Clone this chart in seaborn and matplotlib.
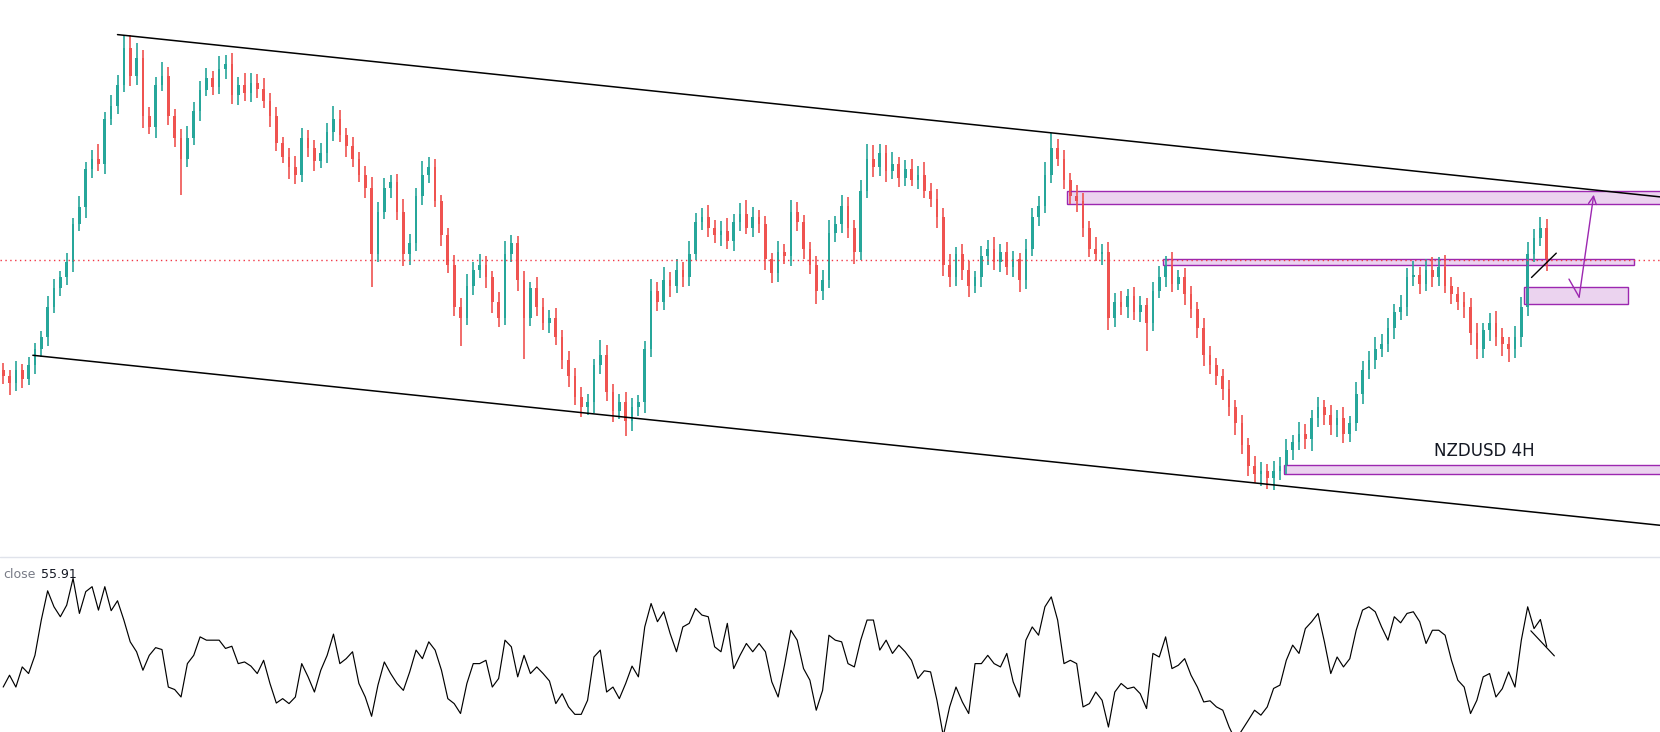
import numpy as np
import pandas as pd
import matplotlib
matplotlib.use("Agg")
import matplotlib.pyplot as plt
from matplotlib.lines import Line2D
from matplotlib.patches import Rectangle
import seaborn as sns

# NZDUSD 4H closes, in pips (price * 10000)
close_pips = [
    6045, 6038, 6050, 6042, 6055, 6070, 6082, 6110, 6128, 6138,
    6152, 6188, 6204, 6240, 6250, 6245, 6288, 6300, 6320, 6355,
    6328, 6345, 6290, 6280, 6320, 6328, 6290, 6270, 6250, 6270,
    6295, 6315, 6326, 6318, 6335, 6340, 6310, 6320, 6312, 6322,
    6316, 6305, 6290, 6265, 6252, 6242, 6235, 6270, 6260, 6248,
    6255, 6275, 6288, 6272, 6262, 6250, 6235, 6222, 6160, 6200,
    6222, 6228, 6200, 6160, 6170, 6215, 6235, 6242, 6210, 6178,
    6150, 6110, 6100, 6130, 6145, 6150, 6138, 6115, 6100, 6160,
    6170, 6135, 6100, 6128, 6110, 6095, 6100, 6082, 6060, 6045,
    6025, 6015, 6020, 6055, 6065, 6030, 6012, 6020, 6002, 6015,
    6020, 6070, 6125, 6115, 6135, 6130, 6145, 6138, 6160, 6190,
    6195, 6185, 6178, 6182, 6172, 6190, 6198, 6185, 6195, 6188,
    6155, 6142, 6162, 6158, 6200, 6190, 6165, 6150, 6125, 6135,
    6180, 6188, 6205, 6185, 6162, 6220, 6250, 6242, 6255, 6238,
    6245, 6232, 6240, 6230, 6235, 6220, 6212, 6195, 6150, 6138,
    6160, 6145, 6130, 6138, 6158, 6165, 6152, 6162, 6148, 6155,
    6135, 6165, 6195, 6205, 6235, 6260, 6250, 6230, 6215, 6210,
    6185, 6165, 6160, 6162, 6100, 6115, 6110, 6120, 6105, 6112,
    6095, 6125, 6138, 6150, 6132, 6138, 6122, 6108, 6090, 6065,
    6055, 6045, 6032, 6015, 6000, 5980, 5960, 5952, 5955, 5948,
    5955, 5960, 5975, 5982, 5990, 5985, 6005, 6015, 6008, 5998,
    6005, 5990, 6000, 6028, 6050, 6060, 6070, 6075, 6090, 6105,
    6110, 6138, 6140, 6132, 6145, 6138, 6148, 6130, 6122, 6115,
    6110, 6085, 6070, 6088, 6095, 6082, 6075, 6070, 6082, 6110,
    6160, 6175, 6185, 6154,
]
first_open = 6050

# wick lengths above / below the body, in pips
up_wick = [
    7, 5, 9, 6, 8, 6, 5, 10, 8, 6,
    9, 6, 11, 7, 8, 14, 6, 10, 9, 12,
    12, 14, 8, 9, 7, 13, 9, 7, 8, 11,
    9, 8, 10, 7, 12, 8, 10, 7, 11, 9,
    8, 10, 7, 9, 6, 8, 11, 9, 7, 8,
    10, 9, 12, 8, 7, 9, 6, 8, 11, 9,
    10, 7, 8, 12, 9, 7, 13, 10, 8, 6,
    7, 9, 8, 11, 7, 10, 8, 6, 9, 12,
    8, 7, 9, 6, 10, 8, 7, 9, 6, 8,
    7, 9, 8, 6, 14, 9, 7, 8, 10, 9,
    7, 8, 11, 9, 13, 8, 10, 7, 12, 9,
    8, 11, 7, 9, 12, 8, 10, 13, 9, 7,
    8, 6, 10, 7, 11, 9, 7, 6, 8, 10,
    12, 8, 11, 9, 7, 10, 14, 13, 9, 8,
    11, 7, 9, 10, 8, 12, 7, 9, 8, 10,
    7, 9, 8, 6, 10, 8, 11, 7, 9, 8,
    6, 9, 8, 10, 12, 14, 9, 8, 7, 10,
    8, 6, 11, 7, 9, 8, 10, 7, 9, 8,
    6, 9, 11, 8, 12, 7, 9, 8, 7, 10,
    8, 7, 6, 9, 7, 8, 6, 9, 8, 7,
    9, 8, 10, 7, 11, 9, 8, 10, 7, 9,
    8, 10, 7, 11, 9, 8, 12, 9, 10, 8,
    11, 9, 13, 8, 10, 12, 9, 11, 8, 7,
    9, 8, 10, 7, 9, 11, 8, 7, 10, 9,
    11, 9, 10, 8,
]
dn_wick = [
    8, 11, 7, 9, 6, 8, 7, 9, 6, 8,
    7, 9, 6, 10, 8, 7, 9, 6, 8, 7,
    9, 8, 11, 7, 10, 6, 8, 9, 34, 8,
    7, 9, 6, 8, 7, 10, 8, 9, 7, 8,
    9, 7, 10, 8, 6, 11, 9, 7, 8, 10,
    7, 9, 8, 6, 10, 8, 7, 9, 31, 8,
    7, 9, 8, 11, 10, 7, 9, 8, 6, 10,
    8, 9, 27, 7, 9, 8, 10, 11, 9, 7,
    8, 10, 39, 8, 9, 7, 10, 8, 9, 11,
    8, 9, 7, 10, 8, 9, 11, 8, 14, 9,
    8, 10, 7, 9, 8, 11, 7, 9, 8, 6,
    7, 9, 8, 10, 7, 9, 8, 6, 9, 8,
    10, 9, 8, 7, 9, 8, 10, 9, 12, 8,
    7, 9, 8, 10, 11, 8, 7, 9, 8, 10,
    7, 9, 8, 6, 9, 7, 8, 10, 11, 9,
    8, 10, 11, 7, 9, 8, 7, 9, 8, 10,
    11, 8, 7, 9, 6, 8, 7, 9, 8, 10,
    9, 8, 7, 10, 12, 9, 8, 10, 7, 9,
    27, 8, 7, 9, 8, 6, 10, 8, 9, 11,
    8, 9, 10, 8, 11, 9, 10, 8, 11, 10,
    11, 9, 8, 10, 7, 9, 11, 8, 10, 9,
    11, 9, 8, 7, 10, 8, 9, 7, 8, 10,
    7, 9, 8, 10, 7, 9, 8, 7, 9, 8,
    10, 11, 9, 8, 10, 9, 11, 12, 8, 10,
    9, 8, 7, 10,
]

# oscillator pane ("close"), one value per candle
rsi = [
    41.2, 45.5, 41.2, 48.5, 46.1, 52.7, 65.5, 76.1, 70.3, 66.7,
    70.9, 80.6, 67.9, 75.8, 77.6, 69.1, 77.6, 68.9, 72.5, 65.5,
    57.6, 54.0, 47.3, 52.7, 55.5, 54.8, 41.2, 40.3, 37.6, 49.7,
    52.7, 59.4, 58.2, 58.2, 58.2, 55.2, 56.0, 49.7, 50.3, 48.8,
    46.1, 50.9, 42.5, 35.4, 37.0, 35.2, 37.6, 49.7, 44.9, 39.4,
    47.3, 52.7, 60.4, 49.7, 51.5, 54.0, 42.5, 37.6, 30.6, 41.9,
    50.3, 46.1, 42.5, 40.0, 46.7, 54.6, 51.5, 57.6, 54.6, 47.3,
    37.0, 35.2, 31.6, 42.5, 49.7, 49.7, 50.9, 41.2, 44.3, 58.2,
    55.8, 44.9, 52.7, 46.1, 48.5, 46.1, 43.4, 35.2, 38.8, 34.0,
    31.3, 31.3, 36.4, 52.1, 54.6, 39.4, 41.2, 37.0, 42.5, 48.8,
    44.9, 63.0, 71.5, 64.9, 68.5, 60.6, 54.0, 63.0, 64.3, 69.7,
    67.3, 66.7, 55.8, 54.0, 64.3, 47.9, 52.7, 57.0, 54.0, 57.0,
    54.0, 43.1, 37.6, 49.1, 61.8, 58.2, 47.9, 43.7, 32.8, 40.0,
    60.0, 58.2, 57.6, 49.7, 48.5, 58.2, 65.5, 65.5, 54.6, 58.2,
    53.4, 56.4, 54.0, 50.9, 44.3, 47.1, 46.7, 36.4, 23.5, 34.0,
    41.2, 35.8, 31.6, 49.7, 49.7, 52.7, 49.7, 48.5, 53.4, 43.1,
    37.6, 58.2, 63.0, 60.0, 70.3, 73.9, 65.5, 49.7, 50.9, 49.7,
    34.0, 35.2, 39.4, 36.4, 26.7, 39.4, 42.5, 40.6, 41.2, 38.8,
    33.4, 53.4, 52.1, 59.4, 47.9, 49.1, 51.5, 45.5, 41.2, 35.8,
    36.2, 34.0, 32.8, 26.7, 21.9, 25.5, 29.1, 32.8, 31.0, 34.0,
    40.7, 41.9, 50.9, 56.4, 53.4, 62.4, 64.9, 67.9, 57.6, 46.1,
    52.1, 48.5, 51.5, 61.8, 69.1, 70.3, 68.5, 63.0, 58.2, 66.7,
    64.5, 67.9, 68.5, 64.9, 57.0, 61.8, 61.8, 60.0, 50.9, 43.7,
    41.2, 31.6, 36.4, 44.9, 46.1, 37.6, 40.6, 46.7, 41.2, 58.2,
    70.3, 62.4, 65.7, 55.91,
]

# hand-drawn objects: (candle index, price) anchors
channel_top = [(18.0, 0.63673), (260.8, 0.62140)]
channel_bottom = [(4.67, 0.60643), (260.8, 0.59037)]
zones = [  # x0, x1, bottom, top
    (167.4, 262.0, 0.62071, 0.62194),
    (182.6, 256.7, 0.61495, 0.61555),
    (239.4, 255.8, 0.61126, 0.61290),
    (201.6, 262.0, 0.59520, 0.59610),
]
arrow_path = [(246.5, 0.61363), (248.1, 0.61193), (250.4, 0.62160)]
small_trend = [(240.6, 0.61378), (244.5, 0.61608)]
osc_trend = [(240.5, 61.6), (244.2, 52.5)]

GREEN, RED = "#26a69a", "#ef5350"
PURPLE = "#9c27b0"

df = pd.DataFrame({"close": np.array(close_pips) / 1e4})
df["open"] = df["close"].shift(1).fillna(first_open / 1e4)
body_lo = df[["open", "close"]].min(axis=1)
body_hi = df[["open", "close"]].max(axis=1)
df["high"] = body_hi + np.array(up_wick) / 1e4
df["low"] = body_lo - np.array(dn_wick) / 1e4
colors = np.where(df["close"] >= df["open"], GREEN, RED)

sns.set_style("white")
plt.rcParams["font.family"] = ["DejaVu Sans"]

fig = plt.figure(figsize=(16.6, 7.32), dpi=100)
ax = fig.add_axes([0, 0.2395, 1, 0.7605])
ax2 = fig.add_axes([0, 0, 1, 0.2377])
xlim = (-0.5, 260.83)

# candles: at this zoom they read as thin solid bars
ax.vlines(df.index, df["low"], df["high"], colors=colors, linewidth=1.2)
ax.bar(df.index, (body_hi - body_lo).clip(lower=0.00008), bottom=body_lo,
       width=0.42, color=colors, linewidth=0)

# channel
for line in (channel_top, channel_bottom):
    xs, ys = zip(*line)
    sns.lineplot(x=list(xs), y=list(ys), ax=ax, color="black", linewidth=1.1)

# last price line
ax.axhline(df["close"].iloc[-1], color="#f23645", linewidth=1,
           linestyle=(0, (1, 2.5)))

# zones
for x0, x1, lo, hi in zones:
    ax.add_patch(Rectangle((x0, lo), x1 - x0, hi - lo, facecolor=PURPLE,
                           alpha=0.2, edgecolor="none"))
    ax.add_patch(Rectangle((x0, lo), x1 - x0, hi - lo, facecolor="none",
                           edgecolor=PURPLE, linewidth=1))

# projected move
ax.plot([arrow_path[0][0], arrow_path[1][0]], [arrow_path[0][1], arrow_path[1][1]],
        color=PURPLE, linewidth=1)
ax.annotate("", xy=arrow_path[2], xytext=arrow_path[1],
            arrowprops=dict(arrowstyle="->", color=PURPLE, lw=1,
                            mutation_scale=14, shrinkA=0, shrinkB=0))

xs, ys = zip(*small_trend)
ax.plot(xs, ys, color="black", linewidth=1)

ax.text(233.1, 0.59734, "NZDUSD 4H", ha="center", va="center",
        fontsize=12, color="#131722")

ax.set_xlim(*xlim)
ax.set_ylim(0.5874, 0.6400)
ax.set_axis_off()

# oscillator pane
sns.lineplot(x=df.index, y=rsi, ax=ax2, color="black", linewidth=0.85)
xs, ys = zip(*osc_trend)
ax2.plot(xs, ys, color="black", linewidth=0.85)
ax2.set_xlim(*xlim)
ax2.set_ylim(24.9, 88)
ax2.set_axis_off()
ax2.text(0.0017, 0.906, "close", transform=ax2.transAxes, color="#787b86",
         fontsize=9, va="center")
ax2.text(0.0247, 0.906, f"{rsi[-1]:.2f}", transform=ax2.transAxes,
         color="#131722", fontsize=9, va="center")

# pane separator
fig.add_artist(Line2D([0, 1], [0.2386, 0.2386], transform=fig.transFigure,
                      color="#e0e3eb", linewidth=1))

fig.savefig("out.png", dpi=100)
